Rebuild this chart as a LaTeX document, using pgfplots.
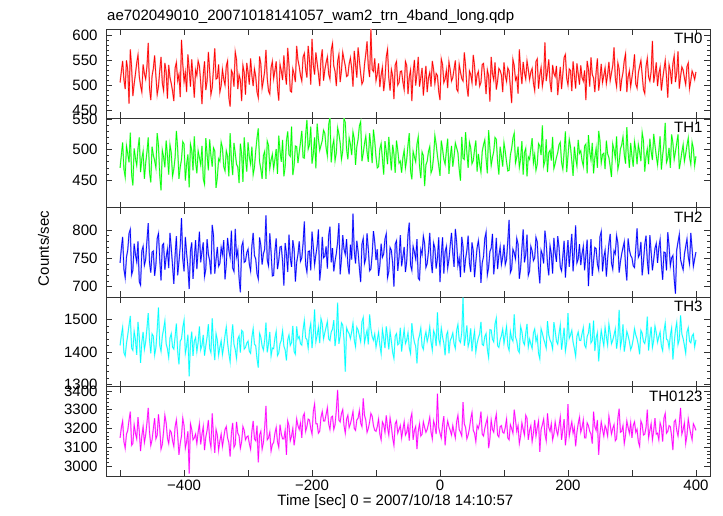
\documentclass[border=0pt]{standalone}
\usepackage{pgfplots}
\usepackage{pgfplotstable}
\pgfplotsset{compat=1.18}
\usepackage{fontspec}
\setmainfont{Liberation Sans}
\newcommand{\bigf}{\fontsize{15}{18}\selectfont}
\definecolor{cR}{RGB}{255,0,0}
\definecolor{cG}{RGB}{0,255,0}
\definecolor{cB}{RGB}{0,0,255}
\definecolor{cC}{RGB}{0,255,255}
\definecolor{cM}{RGB}{255,0,255}
\definecolor{eR}{RGB}{255,140,140}
\definecolor{eG}{RGB}{140,255,140}
\definecolor{eB}{RGB}{140,140,255}
\definecolor{eC}{RGB}{150,255,255}
\definecolor{eM}{RGB}{255,150,255}

\pgfplotstableread{
t a b c d e
-500 505 470 742 1420 3150
-498 527 491 768 1451 3205
-496 548 512 788 1475 3240
-494 511 468 731 1398 3130
-492 492 455 716 1388 3095
-490 549 506 752 1426 3170
-488 530 493 765 1452 3190
-486 463 479 794 1482 3245
-484 571 528 801 1510 3290
-482 536 459 721 1412 3110
-480 478 441 729 1405 3120
-478 502 502 776 1463 3220
-476 522 486 757 1438 3175
-474 544 474 744 1391 3145
-472 560 502 780 1492 3260
-470 517 520 709 1447 3185
-468 499 463 703 1367 3080
-466 486 485 763 1430 3160
-464 541 497 771 1461 3210
-462 523 452 738 1408 3125
-460 512 478 748 1431 3165
-458 537 496 781 1472 3230
-456 584 520 812 1519 3310
-454 494 463 742 1437 3180
-452 470 446 725 1396 3110
-450 518 505 761 1455 3140
-448 533 491 763 1448 3200
-446 559 482 719 1391 3255
-444 518 470 739 1413 3145
-442 481 527 785 1468 3165
-440 497 507 794 1536 3275
-438 529 458 748 1421 3200
-436 556 433 711 1402 3090
-434 504 499 773 1448 3115
-432 489 488 776 1470 3185
-430 544 471 730 1495 3270
-428 527 515 752 1425 3230
-426 473 491 766 1410 3150
-424 540 459 733 1383 3120
-422 515 508 795 1443 3190
-420 503 495 768 1456 3180
-418 488 456 737 1415 3135
-416 468 468 705 1409 3105
-414 534 487 756 1447 3210
-412 545 531 789 1487 3245
-410 509 502 720 1402 3165
-408 521 452 744 1362 3060
-406 476 471 771 1433 3120
-404 590 484 821 1440 3160
-402 542 513 749 1475 3255
-400 507 509 727 1497 3215
-398 525 449 788 1396 3095
-396 486 476 759 1418 3130
-394 561 492 735 1453 3185
-392 532 438 696 1325 2960
-390 497 509 763 1427 3225
-388 551 499 778 1462 3195
-386 514 466 714 1388 3140
-384 475 522 750 1433 3150
-382 530 480 782 1444 3170
-380 519 461 731 1401 3120
-378 548 498 764 1429 3180
-376 538 487 797 1478 3225
-374 505 475 743 1407 3115
-372 462 506 762 1420 3170
-370 520 452 778 1452 3210
-368 547 443 718 1389 3085
-366 490 519 731 1419 3155
-364 508 492 784 1446 3190
-362 566 466 757 1485 3245
-360 529 517 746 1411 3140
-358 481 490 722 1398 3100
-356 495 472 809 1503 3280
-354 533 503 791 1421 3160
-352 573 498 723 1375 3070
-350 512 437 748 1456 3195
-348 514 454 770 1436 3165
-346 541 485 736 1390 3085
-344 486 481 741 1415 3135
-342 499 512 769 1434 3170
-340 531 503 757 1392 3105
-338 512 472 782 1418 3150
-336 500 465 713 1451 3195
-334 538 498 740 1476 3210
-332 548 489 786 1428 3150
-330 475 456 764 1395 3125
-328 457 527 752 1370 3050
-326 529 483 799 1441 3175
-324 523 458 733 1484 3230
-322 497 511 727 1424 3100
-320 566 494 802 1407 3115
-318 551 476 753 1380 3235
-316 492 471 764 1439 3175
-314 520 445 715 1449 3160
-312 510 510 690 1398 3095
-310 468 493 771 1466 3130
-308 539 447 779 1462 3210
-306 525 520 743 1409 3190
-304 481 486 745 1414 3140
-302 544 464 760 1427 3155
-300 526 512 766 1433 3160
-298 501 488 740 1402 3120
-296 553 476 728 1396 3090
-294 519 505 772 1445 3185
-292 498 459 795 1471 3240
-290 532 471 755 1424 3145
-288 517 498 749 1419 3135
-286 486 519 723 1379 3215
-284 475 535 714 1352 3020
-282 557 480 787 1457 3165
-280 542 468 773 1445 3185
-278 494 452 739 1418 3090
-276 509 490 758 1406 3125
-274 528 497 766 1436 3205
-272 570 452 826 1490 3320
-270 513 514 747 1399 3140
-268 488 507 737 1425 3150
-266 482 469 794 1461 3180
-264 535 483 761 1388 3080
-262 547 492 719 1412 3115
-260 513 469 720 1410 3125
-258 529 484 763 1443 3175
-256 547 501 785 1463 3205
-254 495 460 731 1389 3130
-252 469 523 746 1397 3100
-250 541 497 770 1425 3220
-248 528 480 771 1436 3170
-246 510 516 744 1465 3145
-244 559 456 702 1418 3145
-242 523 472 777 1406 3190
-240 501 514 758 1374 3060
-238 574 530 726 1437 3240
-236 540 492 792 1452 3215
-234 488 489 751 1420 3135
-232 486 538 735 1429 3160
-230 532 458 782 1480 3200
-228 522 474 767 1401 3110
-226 506 506 709 1393 3165
-224 578 505 743 1478 3250
-222 550 478 757 1441 3215
-220 537 496 780 1447 3195
-218 519 512 745 1425 3230
-216 508 531 751 1421 3150
-214 556 487 776 1468 3265
-212 563 486 815 1496 3280
-210 532 524 739 1443 3185
-208 515 549 726 1438 3210
-206 578 501 762 1412 3250
-204 549 508 763 1465 3245
-202 501 538 729 1487 3200
-200 592 477 797 1412 3170
-198 540 493 770 1455 3290
-196 521 520 739 1530 3330
-194 565 469 756 1431 3225
-192 544 543 772 1451 3225
-190 523 518 801 1476 3175
-188 498 499 711 1427 3185
-186 552 507 734 1502 3260
-184 571 515 788 1486 3290
-182 509 532 751 1440 3240
-180 530 527 754 1459 3240
-178 545 503 771 1476 3275
-176 556 490 732 1493 3310
-174 522 541 790 1440 3225
-172 512 553 806 1435 3195
-170 570 479 743 1461 3260
-168 583 505 768 1470 3265
-166 538 516 727 1497 3195
-164 527 482 745 1418 3220
-162 498 495 759 1452 3300
-160 547 536 779 1551 3405
-158 561 526 812 1425 3245
-156 506 511 722 1448 3235
-154 529 484 749 1489 3280
-152 565 498 791 1482 3300
-150 551 551 766 1438 3215
-148 538 545 757 1340 3175
-146 517 501 784 1474 3250
-144 519 484 738 1463 3270
-142 542 519 722 1456 3205
-140 554 509 774 1441 3225
-138 533 491 748 1462 3255
-136 497 529 829 1488 3290
-134 568 518 763 1437 3200
-132 541 475 741 1416 3190
-130 515 505 781 1475 3245
-128 575 517 762 1467 3255
-126 549 539 733 1450 3295
-124 523 546 708 1432 3230
-122 502 481 775 1492 3210
-120 508 494 785 1505 3360
-118 541 510 741 1428 3270
-116 562 522 750 1449 3245
-114 587 496 794 1466 3180
-112 536 480 766 1423 3200
-110 516 527 728 1515 3235
-108 612 505 731 1471 3280
-106 531 478 757 1447 3265
-104 527 533 798 1436 3215
-102 553 514 779 1455 3190
-100 509 488 747 1415 3185
-98 522 470 766 1437 3210
-96 543 472 719 1460 3250
-94 496 501 737 1421 3170
-92 520 510 776 1395 3140
-90 535 485 752 1468 3235
-88 488 459 758 1442 3220
-86 511 514 784 1412 3180
-84 556 497 793 1478 3270
-82 571 476 716 1446 3205
-80 514 521 727 1408 3165
-78 489 493 769 1463 3255
-76 531 466 764 1433 3210
-74 518 508 741 1399 3150
-72 472 493 700 1380 3110
-70 540 462 775 1448 3225
-68 547 515 781 1456 3240
-66 500 499 728 1422 3175
-64 505 478 752 1426 3195
-62 527 481 791 1474 3215
-60 528 462 736 1401 3150
-58 506 487 753 1440 3195
-56 491 499 770 1469 3235
-54 547 470 726 1426 3165
-52 539 484 745 1437 3180
-50 482 508 792 1459 3220
-48 516 527 813 1412 3135
-46 530 465 738 1395 3250
-44 468 451 729 1488 3280
-42 524 497 771 1452 3140
-40 550 488 761 1430 3190
-38 499 480 749 1417 3210
-36 522 509 784 1365 3090
-34 556 521 715 1436 3185
-32 497 473 712 1451 3225
-30 515 453 765 1473 3160
-28 534 496 757 1418 3170
-26 479 490 789 1408 3235
-24 511 440 776 1444 3205
-22 538 475 734 1461 3180
-20 486 481 741 1432 3195
-18 514 497 762 1449 3225
-16 525 505 795 1477 3260
-14 497 462 745 1431 3180
-12 548 468 724 1406 3145
-10 531 489 777 1465 3240
-8 503 523 768 1453 3215
-6 523 509 732 1418 3170
-4 519 490 750 1521 3385
-2 487 474 787 1440 3205
0 470 457 708 1423 3175
2 552 515 756 1473 3150
4 541 501 787 1446 3220
6 505 484 723 1427 3265
8 512 476 762 1390 3110
10 529 498 771 1451 3195
12 494 518 733 1462 3240
14 546 460 748 1396 3210
16 530 487 773 1435 3190
18 508 506 795 1444 3165
20 515 472 759 1458 3215
22 532 489 735 1425 3180
24 549 511 802 1411 3150
26 492 503 779 1466 3235
28 487 495 738 1484 3270
30 541 468 750 1436 3195
32 526 449 717 1429 3180
34 513 521 788 1459 3160
36 508 486 771 1566 3340
38 565 484 725 1419 3225
40 538 529 749 1447 3205
42 496 495 764 1481 3145
44 477 470 790 1417 3165
46 528 512 742 1433 3200
48 521 503 726 1472 3250
50 505 477 778 1402 3285
52 560 482 763 1438 3190
54 538 500 717 1464 3175
56 499 515 744 1400 3130
58 520 464 769 1427 3215
60 527 493 781 1443 3200
62 498 476 758 1456 3230
64 505 463 707 1492 3290
66 541 497 742 1423 3170
68 543 508 753 1420 3160
70 516 516 785 1447 3200
72 482 485 796 1456 3230
74 530 461 721 1408 3255
76 518 532 734 1383 3095
78 467 502 762 1468 3145
80 556 474 768 1467 3245
82 523 487 793 1439 3195
84 510 497 722 1431 3180
86 545 520 747 1486 3240
88 491 517 786 1503 3275
90 508 480 731 1419 3165
92 533 459 755 1414 3155
94 529 505 770 1437 3210
96 520 490 739 1450 3215
98 486 472 752 1470 3180
100 545 511 774 1426 3175
102 519 497 739 1452 3205
104 507 480 748 1478 3250
106 534 465 781 1419 3150
108 528 466 818 1405 3140
110 495 491 725 1463 3220
112 464 502 731 1441 3200
114 551 519 766 1433 3175
116 539 527 760 1515 3300
118 510 478 749 1446 3245
120 516 488 785 1434 3185
122 483 505 775 1405 3215
124 571 471 714 1398 3120
126 529 485 733 1478 3160
128 502 514 767 1462 3230
130 546 459 801 1431 3195
132 525 495 743 1422 3165
134 512 502 757 1457 3270
136 548 456 792 1486 3255
138 531 488 720 1415 3140
140 511 484 728 1439 3190
142 526 502 771 1424 3215
144 533 519 763 1411 3130
146 504 478 746 1458 3175
148 489 492 751 1470 3245
150 547 466 787 1433 3160
152 552 476 779 1448 3205
154 493 510 732 1396 3240
156 520 506 706 1379 3075
158 535 491 764 1471 3195
160 498 540 757 1457 3220
162 515 473 741 1440 3250
164 585 481 799 1427 3170
166 508 517 778 1412 3135
168 527 463 740 1494 3280
170 551 495 720 1452 3205
172 506 499 772 1436 3185
174 486 482 758 1428 3225
176 540 521 723 1409 3140
178 523 469 786 1491 3170
180 517 477 760 1465 3235
182 538 487 744 1433 3190
184 480 495 789 1424 3165
186 509 508 770 1456 3215
188 536 512 735 1482 3260
190 492 479 728 1407 3140
192 522 468 754 1440 3195
194 555 496 781 1474 3250
196 561 530 716 1403 3110
198 514 463 753 1429 3175
200 500 489 782 1519 3330
202 532 517 735 1442 3160
204 529 504 766 1452 3200
206 488 481 793 1466 3235
208 547 457 727 1430 3175
210 520 505 761 1411 3205
212 493 486 808 1387 3105
214 543 473 742 1448 3180
216 523 516 749 1461 3225
218 501 494 775 1436 3260
220 539 498 738 1435 3180
222 515 482 758 1456 3205
224 508 473 771 1474 3245
226 529 506 729 1421 3150
228 470 509 756 1413 3150
230 548 461 783 1447 3230
232 531 524 701 1458 3215
234 497 496 750 1489 3185
236 555 483 784 1428 3170
238 521 511 719 1435 3120
240 514 461 745 1496 3290
242 486 487 769 1403 3210
244 526 502 767 1442 3190
246 553 470 740 1459 3245
248 489 531 730 1371 3060
250 512 515 788 1426 3170
252 542 478 797 1466 3235
254 505 492 727 1441 3195
256 519 494 752 1419 3160
258 534 468 764 1475 3215
260 503 515 718 1447 3195
262 521 493 749 1421 3160
264 546 487 776 1485 3265
266 509 472 793 1458 3220
268 524 455 742 1425 3170
270 539 509 731 1436 3200
272 575 500 763 1452 3220
274 513 486 758 1470 3135
276 497 522 790 1410 3145
278 544 468 777 1441 3255
280 532 479 725 1529 3305
282 488 501 744 1415 3180
284 511 508 758 1437 3185
286 525 521 769 1484 3215
288 549 492 779 1401 3120
290 562 477 736 1429 3165
292 486 537 711 1463 3240
294 516 496 785 1450 3205
296 528 470 765 1432 3175
298 497 511 755 1407 3230
300 515 489 751 1418 3150
302 533 472 737 1439 3215
304 561 513 734 1471 3235
306 502 499 768 1452 3180
308 494 476 803 1440 3195
310 524 508 752 1421 3130
312 537 496 757 1393 3105
314 549 481 779 1466 3240
316 520 528 720 1457 3220
318 491 515 744 1432 3165
320 483 464 774 1426 3170
322 537 489 790 1447 3205
324 553 501 746 1508 3300
326 516 476 722 1404 3150
328 508 518 791 1445 3190
330 527 497 761 1477 3225
332 588 483 729 1414 3140
334 505 526 748 1435 3190
336 522 507 768 1479 3255
338 545 490 776 1459 3170
340 498 475 742 1430 3175
342 523 498 769 1447 3140
344 535 522 783 1461 3230
346 489 467 740 1418 3205
348 512 491 712 1404 3130
350 531 509 761 1463 3255
352 549 544 760 1488 3280
354 516 479 729 1439 3175
356 475 486 796 1436 3185
358 540 503 772 1412 3215
360 528 470 737 1450 3210
362 502 525 751 1473 3160
364 543 511 755 1377 3085
366 558 484 714 1426 3235
368 506 497 688 1467 3245
370 524 511 765 1490 3190
372 567 525 779 1423 3160
374 493 468 792 1438 3225
376 517 481 748 1512 3310
378 536 496 738 1455 3170
380 530 508 730 1441 3195
382 514 481 757 1420 3230
384 501 493 771 1396 3120
386 537 507 784 1461 3165
388 544 519 753 1474 3250
390 493 488 740 1433 3205
392 509 476 795 1428 3170
394 528 512 766 1449 3140
396 521 502 736 1455 3225
398 511 474 749 1416 3210
400 526 489 761 1437 3190
}\data

\pgfplotsset{
  panel/.style={
    scale only axis, width=604pt, height=89.4pt,
    anchor=south west,
    xmin=-522, xmax=422,
    xtick={-500,-400,...,400},
    xticklabels={},
    minor y tick num=4,
    axis line style={line width=0.8pt, black!80},
    every tick/.style={black!80, line width=0.6pt},
    major tick length=6pt, minor tick length=3pt,
    yticklabel style={font=\bigf, xshift=-5pt},
    xticklabel style={font=\bigf},
    /pgf/number format/assume math mode=true,
    /pgf/number format/1000 sep={},
    clip=true,
  },
  halo/.style={draw=#1, line width=1.4pt, no marks},
  main/.style={draw=#1, line width=0.6pt, no marks},
}

\begin{document}
\begin{tikzpicture}
\path[use as bounding box] (0,0) rectangle (723pt,516pt);

% TH0
\begin{axis}[panel, at={(106pt,397.6pt)}, ymin=433.2, ymax=612, ytick={450,500,550,600}]
\addplot[halo=eR] table[x=t,y=a]{\data};
\addplot[main=cR] table[x=t,y=a]{\data};
\node[anchor=north east, inner sep=0pt, font=\bigf] at (rel axis cs:0.988,0.955) {TH0};
\end{axis}

% TH1
\begin{axis}[panel, at={(106pt,308.2pt)}, ymin=404.2, ymax=551.5, ytick={450,500,550}]
\addplot[halo=eG] table[x=t,y=b]{\data};
\addplot[main=cG] table[x=t,y=b]{\data};
\node[anchor=north east, inner sep=0pt, font=\bigf] at (rel axis cs:0.988,0.955) {TH1};
\end{axis}

% TH2
\begin{axis}[panel, at={(106pt,218.8pt)}, ymin=681.5, ymax=839.2, ytick={700,750,800}]
\addplot[halo=eB] table[x=t,y=c]{\data};
\addplot[main=cB] table[x=t,y=c]{\data};
\node[anchor=north east, inner sep=0pt, font=\bigf] at (rel axis cs:0.988,0.955) {TH2};
\end{axis}

% TH3
\begin{axis}[panel, at={(106pt,129.4pt)}, ymin=1294, ymax=1567.6, ytick={1300,1400,1500}]
\addplot[halo=eC] table[x=t,y=d]{\data};
\addplot[main=cC] table[x=t,y=d]{\data};
\node[anchor=north east, inner sep=0pt, font=\bigf] at (rel axis cs:0.988,0.955) {TH3};
\end{axis}

% TH0123
\begin{axis}[panel, at={(106pt,40pt)}, ymin=2947, ymax=3423, ytick={3000,3100,3200,3300,3400},
  xticklabels={,−400,,−200,,0,,200,,400}]
\addplot[halo=eM] table[x=t,y=e]{\data};
\addplot[main=cM] table[x=t,y=e]{\data};
\node[anchor=north east, inner sep=0pt, font=\bigf] at (rel axis cs:0.988,0.955) {TH0123};
\end{axis}

\node[anchor=base west, inner sep=0pt, font=\bigf] at (107pt,495.5pt) {ae702049010\_20071018141057\_wam2\_trn\_4band\_long.qdp};
\node[anchor=base, inner sep=0pt, font=\bigf] at (395.4pt,10pt) {Time [sec] 0 = 2007/10/18 14:10:57};
\node[anchor=base, rotate=90, inner sep=0pt, font=\bigf] at (49pt,267.5pt) {Counts/sec};
\end{tikzpicture}
\end{document}
